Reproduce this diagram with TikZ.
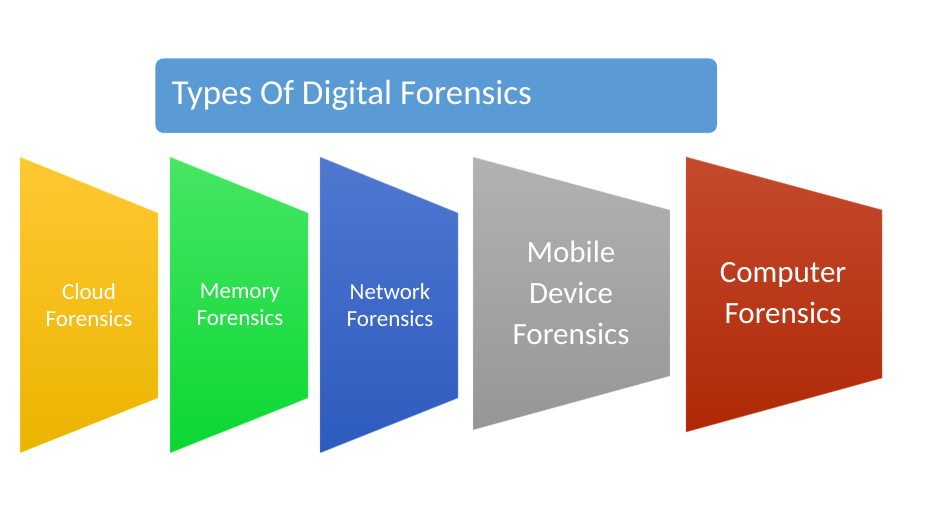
\documentclass[tikz,border=0pt]{standalone}
\usepackage{fontspec}
\setmainfont{Carlito}
\begin{document}
\begin{tikzpicture}[x=1pt,y=-1pt,
  lbl/.style={text=white,align=center,font=\fontsize{23}{27}\selectfont},
  big/.style={text=white,align=center,font=\fontsize{31}{41}\selectfont}]
\useasboundingbox (0,0) rectangle (950,526);
\node[draw=white,fill={rgb,255:red,91;green,155;blue,213},rounded corners=8pt,minimum width=562pt,minimum height=75pt,anchor=north west,inner sep=0pt] (title) at (155,58) {};
\node[anchor=west,text=white,font=\fontsize{35}{40}\selectfont] (tt) at (168,95) {Types Of Digital Forensics};
% panels
\shade[top color={rgb,255:red,255;green,200;blue,50},bottom color={rgb,255:red,235;green,180;blue,0},draw={rgb,255:red,255;green,240;blue,120}] (20,157)--(158,213)--(158,398)--(20,453)--cycle;
\node[lbl] (c1) at (89,305) {Cloud\\Forensics};
\shade[top color={rgb,255:red,70;green,230;blue,100},bottom color={rgb,255:red,10;green,215;blue,50},draw={rgb,255:red,140;green,255;blue,150}] (170,157)--(308,213)--(308,398)--(170,453)--cycle;
\node[lbl] (c2) at (240,305) {Memory\\Forensics};
\shade[top color={rgb,255:red,80;green,120;blue,210},bottom color={rgb,255:red,45;green,90;blue,190},draw={rgb,255:red,140;green,180;blue,250}] (320,157)--(458,213)--(458,398)--(320,453)--cycle;
\node[lbl] (c3) at (390,305) {Network\\Forensics};
\shade[top color={rgb,255:red,178;green,178;blue,178},bottom color={rgb,255:red,150;green,150;blue,150},draw={rgb,255:red,225;green,225;blue,225}] (473,157)--(670,210)--(670,376)--(473,430)--cycle;
\node[big] (c4) at (571,293) {Mobile\\Device\\Forensics};
\shade[top color={rgb,255:red,195;green,75;blue,45},bottom color={rgb,255:red,175;green,40;blue,5},draw={rgb,255:red,240;green,120;blue,80}] (686,157)--(882,210)--(882,378)--(686,432)--cycle;
\node[big] (c5) at (783,293) {Computer\\Forensics};
\end{tikzpicture}
\end{document}
